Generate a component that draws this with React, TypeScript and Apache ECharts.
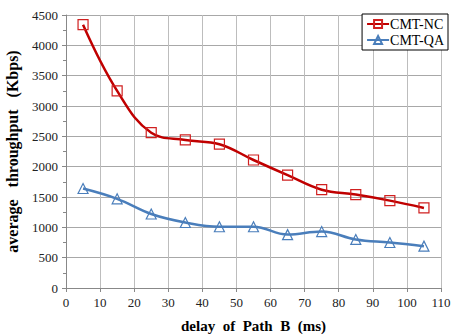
import React, { useEffect, useRef } from "react";
import * as echarts from "echarts";

const xValues = [5, 15, 25, 35, 45, 55, 65, 75, 85, 95, 105];
const cmtNC = [4340, 3250, 2560, 2440, 2370, 2110, 1860, 1620, 1540, 1440, 1320];
const cmtQA = [1640, 1470, 1220, 1080, 1010, 1010, 880, 930, 800, 750, 690];

export default function App() {
  const ref = useRef<HTMLDivElement>(null);
  useEffect(() => {
    const chart = echarts.init(ref.current!, null, { renderer: "svg" });
    const font = "serif";
    chart.setOption({
      animation: false,
      textStyle: { fontFamily: font },
      grid: { left: 66, right: 11, top: 15, bottom: 47, outerBoundsMode: "none" },
      legend: {
        right: 4,
        top: 14,
        orient: "vertical",
        backgroundColor: "#fff",
        borderColor: "#000",
        borderWidth: 1,
        borderRadius: 0,
        padding: [3, 4, 3, 4],
        itemGap: 2,
        itemWidth: 22,
        itemHeight: 10,
        textStyle: { fontFamily: font, fontSize: 14, color: "#000", padding: [0, 0, 0, -4] },
        data: [{ name: "CMT-NC" }, { name: "CMT-QA" }],
      },
      xAxis: {
        type: "value",
        min: 0,
        max: 110,
        interval: 10,
        name: "delay  of  Path  B  (ms)",
        nameLocation: "middle",
        nameGap: 30,
        nameTextStyle: { fontFamily: font, fontWeight: "bold", fontSize: 15, color: "#000" },
        axisLine: { lineStyle: { color: "#888", width: 1 } },
        axisTick: { show: true, length: 4, lineStyle: { color: "#888" } },
        axisLabel: { fontFamily: font, fontSize: 13, color: "#222", margin: 8 },
        splitLine: { show: true, lineStyle: { color: "#bdbdbd", width: 1 } },
      },
      yAxis: {
        type: "value",
        min: 0,
        max: 4500,
        interval: 500,
        name: "average   throughput   (Kbps)",
        nameLocation: "middle",
        nameGap: 46,
        nameTextStyle: { fontFamily: font, fontWeight: "bold", fontSize: 16, color: "#000" },
        axisLine: { show: true, lineStyle: { color: "#888", width: 1 } },
        axisTick: { show: true, length: 4, lineStyle: { color: "#888" } },
        minorTick: { show: true, splitNumber: 2, length: 3, lineStyle: { color: "#888" } },
        axisLabel: { fontFamily: font, fontSize: 13, color: "#222", margin: 8, formatter: (v: number) => String(v) },
        splitLine: { show: true, lineStyle: { color: "#a8a8a8", width: 1 } },
      },
      series: [
        {
          name: "CMT-NC",
          type: "line",
          smooth: 0.4,
          data: xValues.map((x, i) => [x, cmtNC[i]]),
          symbol: "rect",
          symbolSize: 10,
          lineStyle: { color: "#c00000", width: 2.5 },
          itemStyle: { color: "rgba(255,255,255,0)", borderColor: "#d02020", borderWidth: 1.2 },
          color: "#c00000",
          z: 3,
        },
        {
          name: "CMT-QA",
          type: "line",
          smooth: 0.4,
          data: xValues.map((x, i) => [x, cmtQA[i]]),
          symbol: "triangle",
          symbolSize: 10,
          lineStyle: { color: "#4a7ebb", width: 2.5 },
          itemStyle: { color: "rgba(255,255,255,0)", borderColor: "#4a7ebb", borderWidth: 1.2 },
          color: "#4a7ebb",
          z: 3,
        },
      ],
    });
    return () => chart.dispose();
  }, []);
  return <div ref={ref} style={{ width: 452, height: 335, position: "absolute", left: 0, top: 0 }} />;
}
